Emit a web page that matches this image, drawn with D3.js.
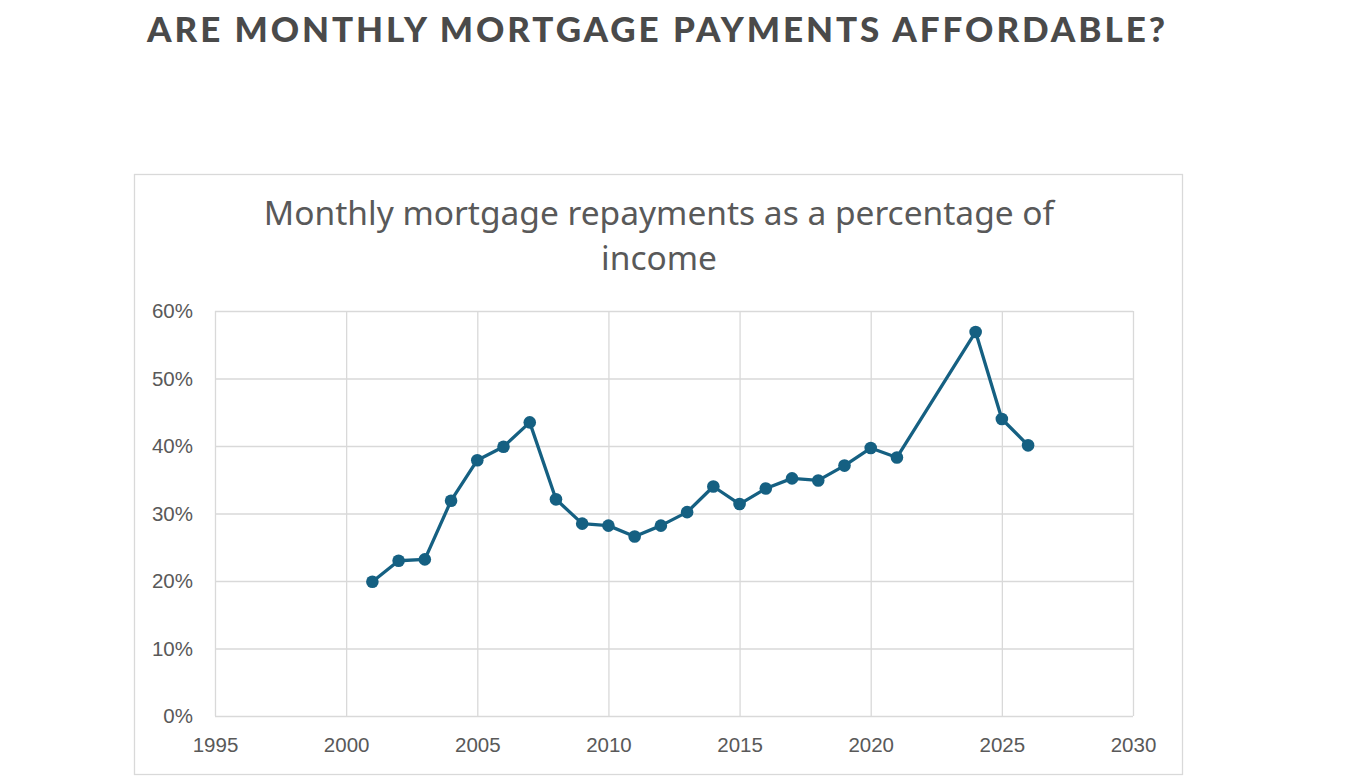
<!DOCTYPE html>
<html>
<head>
<meta charset="utf-8">
<script src="https://cdn.jsdelivr.net/npm/d3@7"></script>
<style>
  body { margin: 0; background: #fff; }
  svg { display: block; }
</style>
</head>
<body>
<div id="chart"></div>
<script>
// values
const years = [2001, 2002, 2003, 2004, 2005, 2006, 2007, 2008, 2009, 2010, 2011, 2012,
               2013, 2014, 2015, 2016, 2017, 2018, 2019, 2020, 2021, 2024, 2025, 2026];
const shares = [19.9, 23.0, 23.2, 31.9, 37.9, 39.9, 43.5, 32.1, 28.5, 28.2, 26.6, 28.2,
                30.2, 34.0, 31.4, 33.7, 35.2, 34.9, 37.1, 39.7, 38.3, 56.9, 44.0, 40.1];
const xTicks = [1995, 2000, 2005, 2010, 2015, 2020, 2025, 2030];
const yTicks = [0, 10, 20, 30, 40, 50, 60];

const pageTitle = "ARE MONTHLY MORTGAGE PAYMENTS AFFORDABLE?";
const chartTitle = ["Monthly mortgage repayments as a percentage of", "income"];

let data = years.map(function(y, i) { return { year: y, value: shares[i] }; });

let svgWidth = 1348;
let svgHeight = 783;
let gridColor = "#d9d9d9";
let textColor = "#595959";
let lineColor = "#156082";

let svg = d3.select("#chart").append("svg")
  .attr("width", svgWidth)
  .attr("height", svgHeight);

// page heading, stretched by letter spacing to the same width as the reference
let heading = svg.append("text")
  .attr("x", 147)
  .attr("y", 42)
  .attr("fill", "#4a4a4a")
  .style("font-family", "Lato, 'Open Sans', sans-serif")
  .style("font-weight", "900")
  .style("font-size", "35px")
  .text(pageTitle);
let plainWidth = heading.node().getComputedTextLength();
let spacing = (1018 - plainWidth) / (pageTitle.length - 1);
heading.style("letter-spacing", spacing + "px");

// chart frame
svg.append("rect")
  .attr("x", 134.5)
  .attr("y", 174.5)
  .attr("width", 1048)
  .attr("height", 600)
  .attr("fill", "#fff")
  .attr("stroke", gridColor)
  .attr("stroke-width", 1.3);

// chart title
svg.append("g").selectAll("text")
  .data(chartTitle)
  .enter()
  .append("text")
  .attr("x", 659)
  .attr("y", function(d, i) { return 225 + i * 45; })
  .attr("text-anchor", "middle")
  .attr("fill", textColor)
  .style("font-family", "'Noto Sans', 'Open Sans', sans-serif")
  .style("font-size", "33.5px")
  .text(function(d) { return d; });

let margin = { top: 311, left: 215 };
let chartWidth = 1133 - 215;
let chartHeight = 716 - 311;

let xScale = d3.scaleLinear()
  .domain([1995, 2030])
  .range([0, chartWidth]);

let yScale = d3.scaleLinear()
  .domain([0, 60])
  .range([chartHeight, 0]);

let chartGroup = svg.append("g")
  .attr("transform", "translate(" + margin.left + "," + margin.top + ")");

// gridlines
chartGroup.append("g")
  .call(d3.axisBottom(xScale).tickValues(xTicks).tickSize(chartHeight).tickFormat(""))
  .call(function(g) { g.select(".domain").remove(); })
  .selectAll("line").attr("stroke", gridColor).attr("stroke-width", 1.3);

chartGroup.append("g")
  .call(d3.axisLeft(yScale).tickValues(yTicks).tickSize(-chartWidth).tickFormat(""))
  .call(function(g) { g.select(".domain").remove(); })
  .selectAll("line").attr("stroke", gridColor).attr("stroke-width", 1.3);

// axis labels
let xAxis = chartGroup.append("g")
  .attr("transform", "translate(0," + chartHeight + ")")
  .call(d3.axisBottom(xScale).tickValues(xTicks).tickSize(0).tickPadding(21).tickFormat(d3.format("d")));
xAxis.select(".domain").remove();

let yAxis = chartGroup.append("g")
  .call(d3.axisLeft(yScale).tickValues(yTicks).tickSize(0).tickPadding(22).tickFormat(function(d) { return d + "%"; }));
yAxis.select(".domain").remove();

chartGroup.selectAll(".tick text")
  .attr("fill", textColor)
  .style("font-family", "'Liberation Sans', Arial, sans-serif")
  .style("font-size", "20.5px");

// the series line and markers
let line = d3.line()
  .x(function(d) { return xScale(d.year); })
  .y(function(d) { return yScale(d.value); });

chartGroup.append("path")
  .datum(data)
  .attr("d", line)
  .attr("fill", "none")
  .attr("stroke", lineColor)
  .attr("stroke-width", 3.3)
  .attr("stroke-linejoin", "round");

chartGroup.selectAll("circle")
  .data(data)
  .enter()
  .append("circle")
  .attr("cx", function(d) { return xScale(d.year); })
  .attr("cy", function(d) { return yScale(d.value); })
  .attr("r", 6.3)
  .attr("fill", lineColor);
</script>
</body>
</html>
